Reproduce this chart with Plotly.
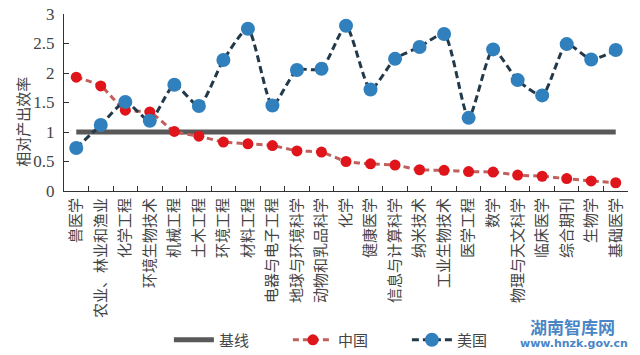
import plotly.graph_objects as go

categories = ["兽医学", "农业、林业和渔业", "化学工程", "环境生物技术", "机械工程", "土木工程",
              "环境工程", "材料工程", "电器与电子工程", "地球与环境科学", "动物和乳品科学", "化学",
              "健康医学", "信息与计算科学", "纳米技术", "工业生物技术", "医学工程", "数学",
              "物理与天文科学", "临床医学", "综合期刊", "生物学", "基础医学"]
baseline = [1.0] * len(categories)
china = [1.93, 1.78, 1.37, 1.34, 1.01, 0.93, 0.83, 0.80, 0.77, 0.68, 0.66, 0.50,
         0.46, 0.44, 0.36, 0.35, 0.33, 0.32, 0.27, 0.25, 0.21, 0.17, 0.14]
usa = [0.73, 1.12, 1.51, 1.19, 1.80, 1.44, 2.22, 2.75, 1.45, 2.05, 2.07, 2.80,
       1.72, 2.24, 2.44, 2.66, 1.24, 2.40, 1.88, 1.62, 2.49, 2.23, 2.39]
y_ticks = [0, 0.5, 1, 1.5, 2, 2.5, 3]
y_tick_text = ["0", "0.5", "1", "1.5", "2", "2.5", "3"]

CJK = "Noto Sans CJK SC"
SERIF = "Liberation Serif, Times New Roman, serif"

fig = go.Figure()
fig.add_trace(go.Scatter(x=categories, y=baseline, name="基线", mode="lines",
                         line=dict(color="#595959", width=5)))
fig.add_trace(go.Scatter(x=categories, y=china, name="中国", mode="lines+markers",
                         line=dict(color="#c0605c", width=3, dash="6px,4px", shape="spline", smoothing=0.5),
                         marker=dict(color="#e0151b", size=11)))
fig.add_trace(go.Scatter(x=categories, y=usa, name="美国", mode="lines+markers",
                         line=dict(color="#22394a", width=3, dash="7px,4px", shape="spline", smoothing=0.6),
                         marker=dict(color="#2f80bd", size=14)))

fig.update_layout(
    width=640, height=355,
    margin=dict(l=63.5, r=12, t=14, b=164, autoexpand=False),
    paper_bgcolor="white", plot_bgcolor="white",
    showlegend=True,
    legend=dict(orientation="h", x=0.186, xanchor="left", y=-0.842, yanchor="middle",
                font=dict(family=CJK, size=15, color="#444"), itemwidth=40,
                entrywidth=64, tracegroupgap=0, bgcolor="rgba(0,0,0,0)"),
    xaxis=dict(type="category", range=[-0.5, len(categories) - 0.5], automargin=False,
               showline=True, linecolor="#333", linewidth=1.2,
               ticks="inside", ticklen=5, tickcolor="#333", tickson="boundaries",
               tickangle=-90, tickfont=dict(family=CJK, size=15, color="#444"),
               showgrid=False, zeroline=False, fixedrange=True),
    yaxis=dict(range=[0, 3], tickvals=y_ticks, ticktext=y_tick_text, automargin=False,
               showline=True, linecolor="#333", linewidth=1.2,
               ticks="inside", ticklen=5, tickcolor="#333", ticklabelstandoff=5,
               tickfont=dict(family=SERIF, size=17, color="#444"),
               showgrid=False, zeroline=False, fixedrange=True),
    annotations=[
        dict(text="相对产出效率", xref="paper", yref="paper", x=-0.073, y=0.39,
             textangle=-90, showarrow=False, xanchor="center", yanchor="middle",
             font=dict(family=CJK, size=15, color="#444")),
        dict(text="<b>湖南智库网</b>", xref="paper", yref="paper", x=0.9805, y=-0.768,
             showarrow=False, xanchor="right", yanchor="middle",
             font=dict(family=CJK, size=17, color="#4a86c6")),
        dict(text="<b>www.hnzk.gov.cn</b>", xref="paper", yref="paper", x=1.0035, y=-0.862,
             showarrow=False, xanchor="right", yanchor="middle",
             font=dict(family="DejaVu Sans", size=11, color="#4a86c6")),
    ],
)

fig.write_html("out.html", post_script="document.body.style.margin='0';",
               config={"displayModeBar": False})
